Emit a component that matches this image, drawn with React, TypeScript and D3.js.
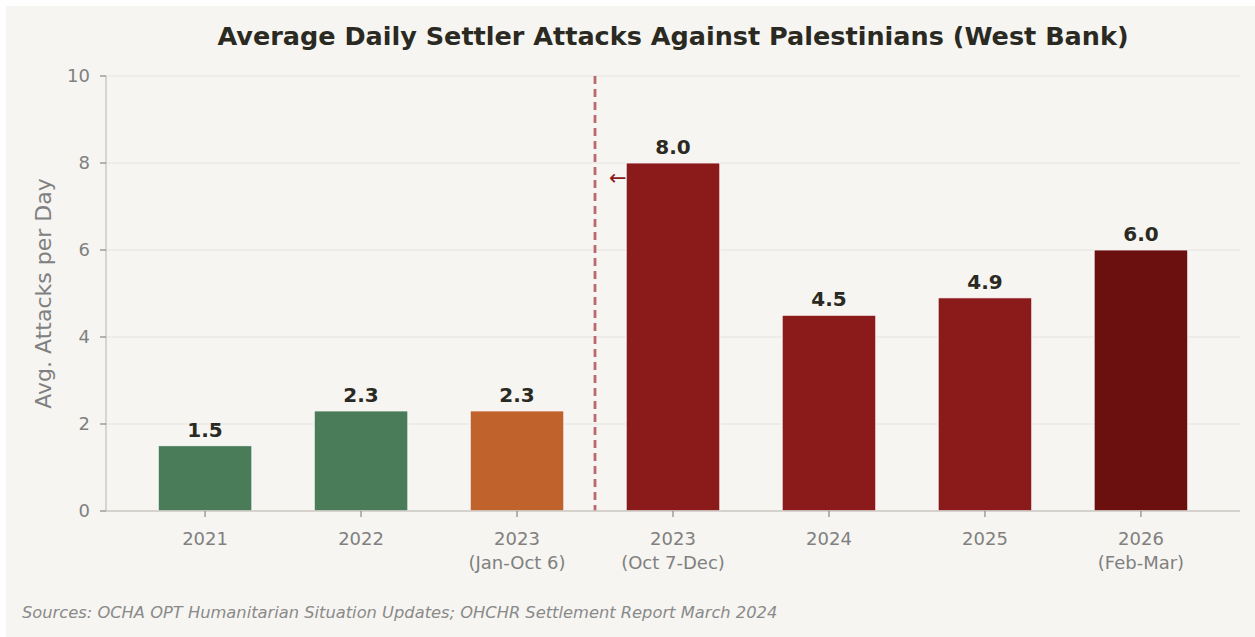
import { useEffect, useRef } from "react";
import * as d3 from "d3";

const categories = ["2021", "2022", "2023\n(Jan-Oct 6)", "2023\n(Oct 7-Dec)", "2024", "2025", "2026\n(Feb-Mar)"];
const values = [1.5, 2.3, 2.3, 8.0, 4.5, 4.9, 6.0];
const barColors = ["#4a7c59", "#4a7c59", "#c0622c", "#8b1a1a", "#8b1a1a", "#8b1a1a", "#6b0f0f"];
const yTicks = [0, 2, 4, 6, 8, 10];

const W = 1255;
const H = 637;
const FONT = "DejaVu Sans, sans-serif";

export default function App() {
  const svgRef = useRef<SVGSVGElement>(null);

  useEffect(() => {
    if (!svgRef.current) return;
    const svg = d3.select(svgRef.current);
    svg.selectAll("*").remove();

    const left = 106, right = 1240, top = 76, bottom = 511;

    svg.append("rect").attr("x", 6).attr("y", 6).attr("width", W - 6).attr("height", H - 6).attr("fill", "#f6f5f1");

    const x = d3.scaleBand<string>().domain(categories).range([left, right]).paddingInner(0.4).paddingOuter(0.335);
    const y = d3.scaleLinear().domain([0, 10]).range([bottom, top]);

    // grid
    svg.append("g")
      .selectAll("line")
      .data(yTicks)
      .join("line")
      .attr("x1", left).attr("x2", right)
      .attr("y1", (d) => y(d)).attr("y2", (d) => y(d))
      .attr("stroke", "#e6e4df").attr("stroke-width", 1.2);

    // bars
    svg.append("g")
      .selectAll("rect")
      .data(values)
      .join("rect")
      .attr("x", (_, i) => x(categories[i])!)
      .attr("y", (d) => y(d))
      .attr("width", x.bandwidth())
      .attr("height", (d) => bottom - y(d))
      .attr("fill", (_, i) => barColors[i])
      .attr("stroke", "#ffffff").attr("stroke-width", 0.8);

    // value labels
    svg.append("g")
      .selectAll("text")
      .data(values)
      .join("text")
      .attr("x", (_, i) => x(categories[i])! + x.bandwidth() / 2)
      .attr("y", (d) => y(d) - 9)
      .attr("text-anchor", "middle")
      .attr("font-family", FONT).attr("font-size", 20).attr("font-weight", "bold")
      .attr("fill", "#2a2a22")
      .text((d) => d.toFixed(1));

    // divider
    const divX = (x(categories[2])! + x.bandwidth() + x(categories[3])!) / 2;
    svg.append("line")
      .attr("x1", divX).attr("x2", divX).attr("y1", top).attr("y2", bottom)
      .attr("stroke", "#b0505a").attr("stroke-opacity", 0.85).attr("stroke-width", 2.8).attr("stroke-dasharray", "8,5");

    svg.append("text")
      .attr("x", divX + 14).attr("y", y(7.65) + 7)
      .attr("font-family", FONT).attr("font-size", 21).attr("fill", "#8b1a1a")
      .text("←");

    // spines
    svg.append("line").attr("x1", left).attr("x2", left).attr("y1", top).attr("y2", bottom)
      .attr("stroke", "#cccac5").attr("stroke-width", 1.5);
    svg.append("line").attr("x1", left).attr("x2", right).attr("y1", bottom).attr("y2", bottom)
      .attr("stroke", "#cccac5").attr("stroke-width", 1.5);

    // y ticks
    const yt = svg.append("g");
    yt.selectAll("line").data(yTicks).join("line")
      .attr("x1", left - 6).attr("x2", left).attr("y1", (d) => y(d)).attr("y2", (d) => y(d))
      .attr("stroke", "#888").attr("stroke-width", 1.2);
    yt.selectAll("text").data(yTicks).join("text")
      .attr("x", left - 16).attr("y", (d) => y(d) + 6)
      .attr("text-anchor", "end")
      .attr("font-family", FONT).attr("font-size", 18).attr("fill", "#808080")
      .text((d) => d);

    // x ticks
    const xt = svg.append("g");
    xt.selectAll("line").data(categories).join("line")
      .attr("x1", (d) => x(d)! + x.bandwidth() / 2).attr("x2", (d) => x(d)! + x.bandwidth() / 2)
      .attr("y1", bottom).attr("y2", bottom + 6)
      .attr("stroke", "#888").attr("stroke-width", 1.2);
    xt.selectAll("text").data(categories).join("text")
      .attr("x", (d) => x(d)! + x.bandwidth() / 2)
      .attr("y", bottom + 34)
      .attr("text-anchor", "middle")
      .attr("font-family", FONT).attr("font-size", 18).attr("fill", "#808080")
      .each(function (d) {
        const lines = d.split("\n");
        const t = d3.select(this);
        lines.forEach((ln, i) => {
          t.append("tspan").attr("x", x(d)! + x.bandwidth() / 2).attr("dy", i === 0 ? 0 : 24).text(ln);
        });
      });

    // y label
    svg.append("text")
      .attr("transform", `translate(51,${(top + bottom) / 2}) rotate(-90)`)
      .attr("text-anchor", "middle")
      .attr("font-family", FONT).attr("font-size", 22).attr("fill", "#808080")
      .text("Avg. Attacks per Day");

    // title
    svg.append("text")
      .attr("x", (left + right) / 2).attr("y", 45)
      .attr("text-anchor", "middle")
      .attr("font-family", FONT).attr("font-size", 25.5).attr("font-weight", "bold")
      .attr("fill", "#2a2a22")
      .text("Average Daily Settler Attacks Against Palestinians (West Bank)");

    // source
    svg.append("text")
      .attr("x", 22).attr("y", 618)
      .attr("font-family", FONT).attr("font-size", 16.3).attr("font-style", "italic")
      .attr("fill", "#8a8a8a")
      .text("Sources: OCHA OPT Humanitarian Situation Updates; OHCHR Settlement Report March 2024");
  }, []);

  return (
    <svg ref={svgRef} width={W} height={H} style={{ position: "absolute", left: 0, top: 0 }} />
  );
}
